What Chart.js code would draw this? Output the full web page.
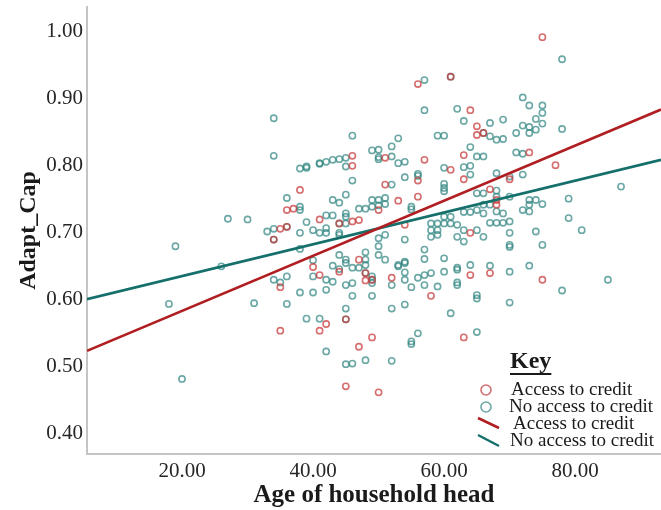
<!DOCTYPE html>
<html>
<head>
<meta charset="utf-8">
<script src="https://cdn.jsdelivr.net/npm/chart.js@4"></script>
<style>
  body { margin: 0; background: #fff; }
  canvas { display: block; }
</style>
</head>
<body>
<canvas id="scatterChart" width="661" height="510"></canvas>
<script>
// ==========================================
// Adapt_Cap vs Age of household head
// ==========================================

const xTicks = [20, 40, 60, 80];
const yTicks = [0.40, 0.50, 0.60, 0.70, 0.80, 0.90, 1.00];

// Access to credit (red circles)
const accessAge = [
    38, 36, 37, 41, 35, 36, 34, 40, 41, 35, 35, 41,
    56, 61, 64, 65, 65, 51, 63, 46, 46, 57, 61, 63,
    56, 51, 56, 53, 50, 44, 46, 47, 54, 64, 64, 58,
    63, 50, 45, 47, 49, 42, 45, 52, 44, 47, 48, 48,
    75, 73, 77, 70, 67, 68, 68, 67, 75, 49, 66
];
const accessCap = [
    0.764, 0.734, 0.736, 0.720, 0.706, 0.709, 0.690, 0.649, 0.637, 0.619, 0.554, 0.554,
    0.922, 0.933, 0.883, 0.859, 0.846, 0.812, 0.816, 0.815, 0.800, 0.809, 0.794, 0.780,
    0.778, 0.772, 0.754, 0.748, 0.734, 0.714, 0.717, 0.719, 0.712, 0.700, 0.637, 0.606,
    0.544, 0.462, 0.471, 0.530, 0.544, 0.564, 0.571, 0.633, 0.642, 0.660, 0.640, 0.629,
    0.992, 0.820, 0.801, 0.780, 0.765, 0.749, 0.742, 0.640, 0.630, 0.630, 0.849
];

// No access to credit (teal circles)
const noAccessAge = [
    34, 34, 38, 39, 39, 41, 36, 38, 27, 30, 39, 33, 34, 36, 34, 38, 40, 19, 26, 38,
    40, 40, 34, 36, 35, 38, 40, 18, 31, 36, 39, 41, 20,
    57, 61, 57, 62, 63, 46, 53, 59, 60, 49, 50, 52, 50, 50, 52, 64, 65,
    41, 42, 43, 44, 45, 45, 53, 54, 60, 63, 64, 64, 46, 54, 56, 56, 60, 60, 60, 52,
    45, 43, 44, 49, 50, 51, 38, 47, 48, 49, 50, 51, 45, 45, 42, 43, 44, 45, 42, 42,
    55, 55, 58, 59, 60, 61, 62, 60, 61, 63, 64, 58, 59, 63, 44, 41,
    44, 50, 50, 50, 51, 54, 58, 59, 57, 57, 60, 62, 63, 62, 62, 64, 60, 62, 62, 65,
    65, 61, 65, 59, 57, 56, 57, 58, 54, 54, 54, 53, 52, 55, 54, 52, 56, 55, 55, 52,
    48, 45, 46, 42, 45, 45, 49, 46, 42, 45, 46, 43, 42, 43, 44, 44, 45, 45, 46, 47,
    48, 48, 48, 48, 49, 49, 49, 51, 53, 54, 66,
    78, 72, 73, 75, 75, 74, 69, 67, 72, 73, 75, 74, 73, 71, 78, 66, 67, 68, 69, 66,
    71, 72, 68, 70, 72, 87, 65, 66, 68, 68, 70, 73, 74, 75, 73, 72, 73, 79, 79, 81,
    74, 67, 68, 69, 70, 66, 66, 65, 67, 68, 69, 65, 70,
    70, 70, 75, 67, 70, 73, 85, 78, 70
];
const noAccessCap = [
    0.871, 0.815, 0.796, 0.797, 0.799, 0.803, 0.752, 0.734, 0.721, 0.720, 0.716, 0.702, 0.706, 0.709, 0.690, 0.700, 0.704, 0.680, 0.650, 0.676,
    0.659, 0.635, 0.630, 0.635, 0.626, 0.611, 0.611, 0.594, 0.595, 0.594, 0.572, 0.572, 0.482,
    0.928, 0.933, 0.883, 0.885, 0.867, 0.845, 0.841, 0.845, 0.845, 0.823, 0.824, 0.829, 0.813, 0.810, 0.814, 0.828, 0.814,
    0.804, 0.806, 0.809, 0.810, 0.812, 0.799, 0.804, 0.806, 0.797, 0.798, 0.800, 0.787, 0.778, 0.783, 0.785, 0.788, 0.773, 0.767, 0.762, 0.772,
    0.757, 0.749, 0.745, 0.749, 0.749, 0.752, 0.739, 0.736, 0.736, 0.739, 0.741, 0.743, 0.729, 0.724, 0.726, 0.726, 0.714, 0.714, 0.707, 0.700,
    0.739, 0.735, 0.714, 0.714, 0.714, 0.714, 0.712, 0.724, 0.724, 0.731, 0.731, 0.704, 0.704, 0.704, 0.700, 0.700,
    0.697, 0.692, 0.680, 0.667, 0.697, 0.690, 0.694, 0.697, 0.675, 0.661, 0.662, 0.694, 0.687, 0.648, 0.645, 0.652, 0.642, 0.626, 0.622, 0.607,
    0.602, 0.580, 0.552, 0.620, 0.622, 0.633, 0.637, 0.640, 0.641, 0.630, 0.657, 0.652, 0.622, 0.619, 0.593, 0.587, 0.550, 0.538, 0.534, 0.509,
    0.510, 0.504, 0.505, 0.523, 0.571, 0.587, 0.606, 0.606, 0.615, 0.622, 0.625, 0.627, 0.630, 0.651, 0.646, 0.667, 0.660, 0.655, 0.648, 0.648,
    0.652, 0.660, 0.671, 0.640, 0.635, 0.630, 0.625, 0.660, 0.650, 0.655, 0.694,
    0.959, 0.902, 0.890, 0.890, 0.879, 0.870, 0.869, 0.864, 0.860, 0.858, 0.863, 0.854, 0.849, 0.849, 0.855, 0.849, 0.844, 0.839, 0.840, 0.814,
    0.820, 0.818, 0.789, 0.784, 0.787, 0.769, 0.759, 0.759, 0.763, 0.754, 0.754, 0.749, 0.749, 0.743, 0.742, 0.734, 0.732, 0.751, 0.722, 0.704,
    0.702, 0.742, 0.732, 0.729, 0.717, 0.742, 0.729, 0.734, 0.715, 0.715, 0.715, 0.704, 0.700,
    0.682, 0.679, 0.682, 0.651, 0.642, 0.651, 0.630, 0.614, 0.596
];

// Fit lines, read at the two ends of the x axis
const fitAge = [5.5, 93.1];
const accessFit = [0.524, 0.884];
const noAccessFit = [0.601, 0.809];

const X_MIN = 5.5, X_MAX = 93.1, Y_MIN = 0.370, Y_MAX = 1.037;

const RED_PT = 'rgba(200,60,62,0.75)';
const TEAL_PT = 'rgba(50,135,130,0.72)';
const RED_LINE = '#b01e22';
const TEAL_LINE = '#15706b';

function serif(size, weight) {
    return { family: "'Liberation Serif', 'Times New Roman', serif", size: size, weight: weight || 'normal' };
}

function toPoints(xs, ys) {
    return xs.map((x, i) => ({ x: x, y: ys[i] }));
}

// "Key" box drawn inside the plot, bottom right
const keyPlugin = {
    id: 'keyBox',
    afterDraw(chart) {
        const c = chart.ctx;
        c.save();
        c.fillStyle = '#1a1a1a';
        c.textBaseline = 'middle';
        c.textAlign = 'left';
        c.font = "bold 24px 'Liberation Serif', serif";
        c.fillText('Key', 510, 362);
        const w = c.measureText('Key').width;
        c.fillRect(510, 373, w, 2);

        c.font = "19px 'Liberation Serif', serif";
        c.lineWidth = 1.6;
        c.strokeStyle = RED_PT;
        c.beginPath(); c.arc(486, 390, 5, 0, Math.PI * 2); c.stroke();
        c.fillText('Access to credit', 511, 390);
        c.strokeStyle = TEAL_PT;
        c.beginPath(); c.arc(486, 407, 5, 0, Math.PI * 2); c.stroke();
        c.fillText('No access to credit', 509, 407);

        c.lineWidth = 2.5;
        c.strokeStyle = RED_LINE;
        c.beginPath(); c.moveTo(478, 418); c.lineTo(499, 428); c.stroke();
        c.fillText('Access to credit', 513, 424);
        c.strokeStyle = TEAL_LINE;
        c.beginPath(); c.moveTo(478, 435); c.lineTo(499, 446); c.stroke();
        c.fillText('No access to credit', 510, 441);
        c.restore();
    }
};

new Chart(document.getElementById('scatterChart'), {
    type: 'scatter',
    data: {
        datasets: [
            {
                type: 'line', label: 'Access to credit (fit)',
                data: toPoints(fitAge, accessFit),
                borderColor: RED_LINE, borderWidth: 2.6, pointRadius: 0, fill: false, order: 0,
            },
            {
                type: 'line', label: 'No access to credit (fit)',
                data: toPoints(fitAge, noAccessFit),
                borderColor: TEAL_LINE, borderWidth: 2.6, pointRadius: 0, fill: false, order: 0,
            },
            {
                label: 'Access to credit',
                data: toPoints(accessAge, accessCap),
                borderColor: RED_PT, backgroundColor: 'rgba(0,0,0,0)',
                pointRadius: 3.1, borderWidth: 1.6, order: 1,
            },
            {
                label: 'No access to credit',
                data: toPoints(noAccessAge, noAccessCap),
                borderColor: TEAL_PT, backgroundColor: 'rgba(0,0,0,0)',
                pointRadius: 3.1, borderWidth: 1.6, order: 2,
            }
        ]
    },
    options: {
        responsive: false, animation: false, devicePixelRatio: 1,
        layout: { autoPadding: false, padding: { top: 7, right: 0, left: 0, bottom: 0 } },
        plugins: { legend: { display: false }, tooltip: { enabled: false } },
        scales: {
            x: {
                type: 'linear', min: X_MIN, max: X_MAX,
                grid: { display: false, drawTicks: false },
                border: { display: true, color: '#c4c4c4', width: 2 },
                afterBuildTicks: s => { s.ticks = xTicks.map(v => ({ value: v })); },
                afterFit: s => { s.height = 56; s.paddingLeft = 0; s.paddingRight = 0; },
                ticks: { font: serif(21), color: '#262626', padding: 5, maxRotation: 0, callback: v => v.toFixed(2) },
                title: { display: true, text: 'Age of household head', font: serif(25, 'bold'), color: '#1a1a1a', padding: { top: 0, bottom: -1 } }
            },
            y: {
                type: 'linear', min: Y_MIN, max: Y_MAX,
                grid: { display: false, drawTicks: false },
                border: { display: true, color: '#c4c4c4', width: 2 },
                afterBuildTicks: s => { s.ticks = yTicks.map(v => ({ value: v })); },
                afterFit: s => { s.width = 87; s.paddingTop = 0; s.paddingBottom = 0; },
                ticks: { font: serif(21), color: '#262626', padding: 4, callback: v => v.toFixed(2) },
                title: { display: true, text: 'Adapt_Cap', font: serif(24, 'bold'), color: '#1a1a1a', padding: { top: 14, bottom: 0 } }
            }
        }
    },
    plugins: [keyPlugin]
});
</script>
</body>
</html>
